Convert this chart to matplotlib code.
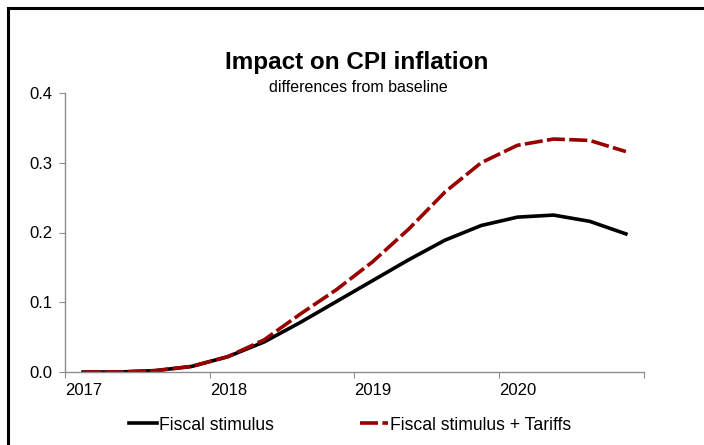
import matplotlib.pyplot as plt
from matplotlib.patches import Rectangle
import numpy as np

plt.rcParams['font.family'] = ['Liberation Sans', 'DejaVu Sans']

# quarterly results, 2017Q1 - 2020Q4
quarters = ["2017Q1", "2017Q2", "2017Q3", "2017Q4",
            "2018Q1", "2018Q2", "2018Q3", "2018Q4",
            "2019Q1", "2019Q2", "2019Q3", "2019Q4",
            "2020Q1", "2020Q2", "2020Q3", "2020Q4"]
fiscal = [0.0, 0.0, 0.002, 0.008, 0.022, 0.043, 0.071, 0.101,
          0.131, 0.161, 0.189, 0.210, 0.222, 0.225, 0.216, 0.198]
fiscal_tariffs = [0.0, 0.0, 0.002, 0.008, 0.022, 0.046, 0.083, 0.118,
                  0.158, 0.205, 0.258, 0.300, 0.325, 0.334, 0.332, 0.316]
years = ["2017", "2018", "2019", "2020"]

fig = plt.figure(figsize=(7.04, 4.45), dpi=100)
ax = fig.add_axes([65 / 704, 1 - 372 / 445, (644 - 65) / 704, (372 - 93) / 445])

# points sit in the middle of each quarter
x = np.arange(len(quarters)) / 4 + 0.125
ax.plot(x, fiscal, color="black", lw=2.6, label="Fiscal stimulus")
ax.plot(x, fiscal_tariffs, color="#990000", lw=2.6, dashes=(5.0, 1.2),
        label="Fiscal stimulus + Tariffs")

ax.set_xlim(0, 4)
ax.set_ylim(0, 0.4)
ax.set_yticks([0.0, 0.1, 0.2, 0.3, 0.4])
ax.set_yticklabels(["0.0", "0.1", "0.2", "0.3", "0.4"])
ax.set_xticks(range(5))
ax.set_xticklabels(years + [""], ha="left")
for s in ["top", "right"]:
    ax.spines[s].set_visible(False)
for s in ["left", "bottom"]:
    ax.spines[s].set_color("#8c8c8c")
    ax.spines[s].set_linewidth(1.0)
ax.tick_params(axis="both", direction="out", length=4, color="#8c8c8c",
               labelsize=12, labelcolor="black")
ax.tick_params(axis="x", pad=4)
ax.tick_params(axis="y", pad=5)

fig.text(357 / 704, 1 - 63 / 445, "Impact on CPI inflation", ha="center",
         va="center", fontsize=17.5, fontweight="bold")
fig.text(358 / 704, 1 - 88 / 445, "differences from baseline", ha="center",
         va="center", fontsize=11.5)

leg = fig.legend(loc="center", bbox_to_anchor=(350 / 704, 1 - 425 / 445),
                 ncol=2, frameon=False, fontsize=12.7, handlelength=1.6,
                 handletextpad=0.1, columnspacing=4.9)

# outer frame, running off the right and bottom edges
fig.patches.append(Rectangle((8 / 704, -0.1), 1.2, 1 - 8 / 445 + 0.1,
                             transform=fig.transFigure, fill=False,
                             edgecolor="black", lw=2.2))

fig.savefig("out.png", dpi=100)
